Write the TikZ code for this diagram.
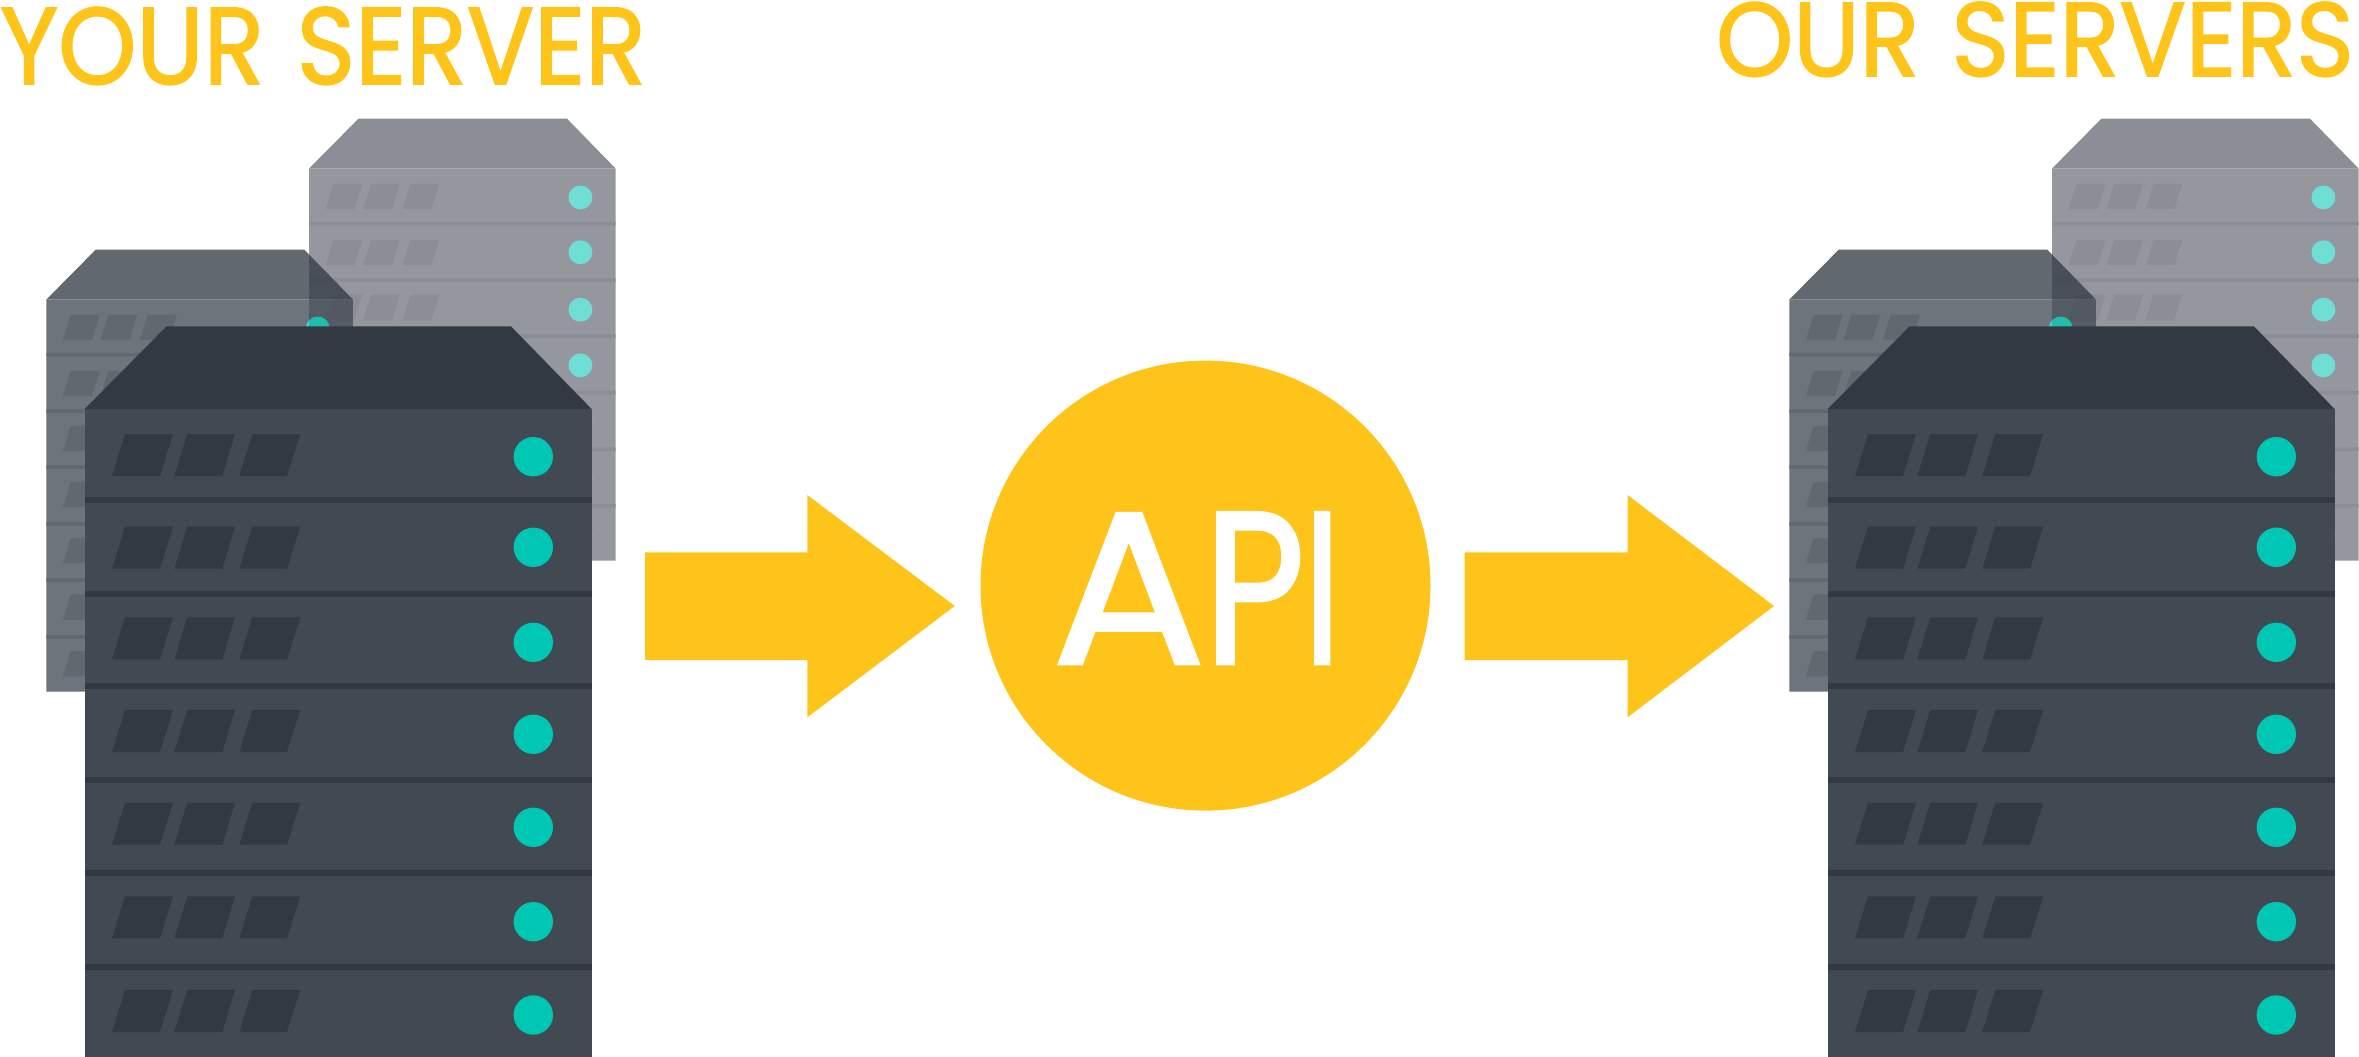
\documentclass[tikz,border=0pt]{standalone}
\usepackage{fontspec}
\usepackage{graphicx}
\setmainfont{Poppins}
\newfontfamily\titlefont[FakeBold=1.6]{Poppins}
\definecolor{brandyellow}{HTML}{FFC41A}
\definecolor{rackbody}{HTML}{414953}
\definecolor{rackdark}{HTML}{323943}
\definecolor{rackdot}{HTML}{00C7B4}
\newcommand{\slotrow}[1]{%
  \begin{scope}[yshift=#1*-1pt]
    \fill[rackdark] (27.3,42) -- (40.3,0) -- (88.3,0) -- (75.3,42) -- cycle;
    \fill[rackdark] (89.6,42) -- (102.6,0) -- (150.3,0) -- (137.6,42) -- cycle;
    \fill[rackdark] (154.6,42) -- (167.6,0) -- (215.6,0) -- (202.3,42) -- cycle;
  \end{scope}}
\newcommand{\rackserver}{%
  \fill[rackdark] (81.8,0) -- (426.3,0) -- (506.9,82.6) -- (0,82.6) -- cycle;
  \fill[rackbody] (0,82.6) rectangle (506.9,730.6);
  \foreach \ly in {173.6,267.1,359.6,453.1,546.6,640.1}
    \fill[rackdark] (0,\ly-3) rectangle (506.9,\ly+3);
  \foreach \sy in {107.6,200.3,290.9,383.6,476.3,569.9,663.6}
    \slotrow{\sy};
  \foreach \dy in {130.3,220.9,315.9,407.9,500.9,595.3,688.6}
    \fill[rackdot] (448.6,\dy) circle (19.7);
}
\newcommand{\servergroup}{%
  \begin{scope}[shift={(309,118.6)},scale=.605,transparency group,opacity=.565]\rackserver\end{scope}
  \begin{scope}[shift={(46.3,249.6)},scale=.605,transparency group,opacity=.765]\rackserver\end{scope}
  \begin{scope}[shift={(84.7,326.4)}]\rackserver\end{scope}
}
\tikzset{
  blockarrow/.style={fill=brandyellow},
  title/.style={text=brandyellow,inner sep=0pt,outer sep=0pt,anchor=base west},
}
\begin{document}
\begin{tikzpicture}[x=1pt,y=-1pt]
  \useasboundingbox (0,0) rectangle (2359,1057);
  \clip (0,0) rectangle (2359,1057);
  \servergroup
  \begin{scope}[xshift=1743pt]\servergroup\end{scope}
  \fill[blockarrow] (645,552.3) -- (807.3,552.3) -- (807.3,495) -- (954.7,606) -- (807.3,717.3) -- (807.3,660) -- (645,660) -- cycle;
  \fill[blockarrow] (1464.7,552.3) -- (1627.5,552.3) -- (1627.5,495) -- (1774,606) -- (1627.5,717.3) -- (1627.5,660) -- (1464.7,660) -- cycle;
  \node[circle,fill=brandyellow,minimum size=450pt,inner sep=0pt] (apicircle) at (1205.5,585.6) {};
  \node[title] (apitext) at (1052,663.7) {\textcolor{white}{\resizebox{289pt}{151pt}{\fontsize{200}{200}\titlefont \scalebox{1.5}[1]{A}\kern-.01em\scalebox{1.15}[1]{P}\kern-.01em I}}};
  \node[title] (yourserver) at (0,84) {\resizebox{646pt}{77pt}{\fontsize{108}{108}\titlefont YOUR\kern.06em\ SERVER}};
  \node[title] (ourservers) at (1716,76) {\resizebox{638pt}{74pt}{\fontsize{108}{108}\titlefont OUR\kern.06em\ SERVERS}};
\end{tikzpicture}
\end{document}
